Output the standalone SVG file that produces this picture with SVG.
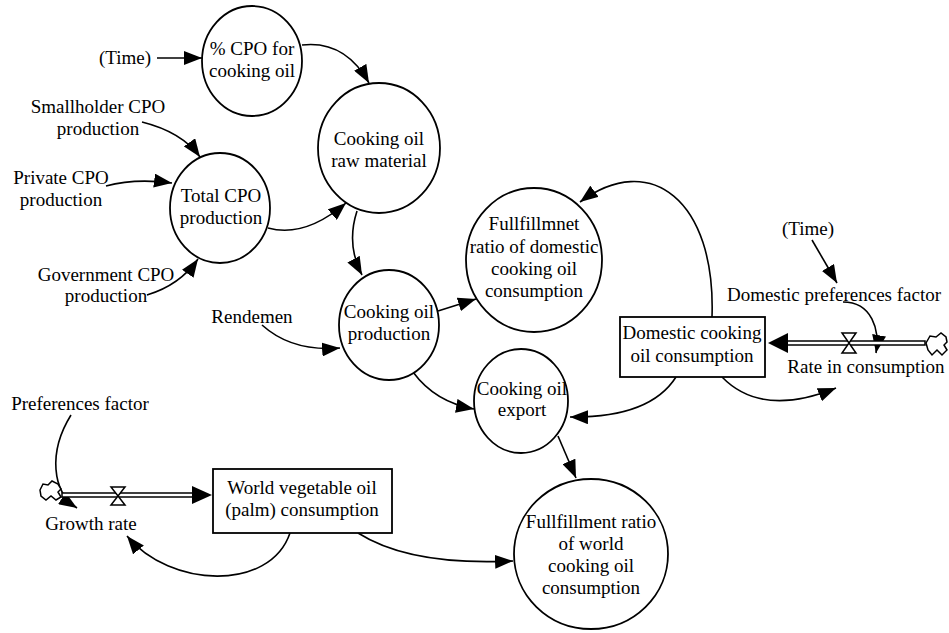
<svg xmlns="http://www.w3.org/2000/svg" width="949" height="633" viewBox="0 0 949 633" font-family="'Liberation Serif', 'Times New Roman', Tinos, 'DejaVu Serif', serif">
<defs>
<marker id="ah" viewBox="0 0 18 14" refX="18" refY="7" markerWidth="18" markerHeight="14" markerUnits="userSpaceOnUse" orient="auto">
<path d="M0,0 L18,7 L0,14 Z" fill="#000"/>
</marker>
</defs>
<style>
text{font-family:'Liberation Serif','Times New Roman',Tinos,'DejaVu Serif',serif;font-size:19px;fill:#000;text-anchor:middle}
.n{fill:#fff;stroke:#000;stroke-width:1.8}
.c{fill:none;stroke:#000;stroke-width:1.6;marker-end:url(#ah)}
.pipe{fill:#fff;stroke:#000;stroke-width:1.5}
.valve{fill:#fff;stroke:#000;stroke-width:1.5}
.cloud{fill:#fff;stroke:#000;stroke-width:1.5}
.head{fill:#000}
</style>
<rect width="949" height="633" fill="#fff"/>

<g id="connectors">
<path class="c" d="M157,58 L202,58"/>
<path class="c" d="M302,45 Q345,40 369,83"/>
<path class="c" d="M142,122 Q182,132 200,157"/>
<path class="c" d="M106,186 Q135,178 172,183"/>
<path class="c" d="M147,295 Q180,285 198,259"/>
<path class="c" d="M268,228 Q305,238 346,203"/>
<path class="c" d="M357,211 Q346,245 362,275"/>
<path class="c" d="M262,325 Q292,352 340,348"/>
<path class="c" d="M438,311 L476,299"/>
<path class="c" d="M413,372 Q435,402 474,409"/>
<path class="c" d="M676,377 Q650,418 570,417"/>
<path class="c" d="M712,317 C716,200 650,150 580,202"/>
<path class="c" d="M722,377 Q762,418 836,388"/>
<path class="c" d="M558,436 L576,478"/>
<path class="c" d="M358,533 Q410,566 513,561"/>
<path class="c" d="M290,533 C270,592 170,588 127,536"/>
<path class="c" d="M71,415 C48,452 52,492 77,508"/>
<path class="c" d="M812,240 L837,283"/>
<path class="c" d="M843,302 C872,302 880,330 876,353"/>
</g>

<g id="flow-growth">
<rect class="pipe" x="62" y="493" width="131" height="4"/>
<path class="head" d="M192,486 L212,495 L192,504 Z"/>
<path class="valve" d="M111,487 L125,487 L111,505 L125,505 Z"/>
<path class="cloud" d="M40,490 L43,484 L48,485 L52,481 L58,484 L61,489 L58,492 L61,497 L56,500 L51,496 L46,500 L41,496 Z"/>
<text x="91" y="530">Growth rate</text>
</g>

<g id="flow-rate">
<rect class="pipe" x="787" y="341" width="138" height="4"/>
<path class="head" d="M788,333 L768,343 L788,353 Z"/>
<path class="valve" d="M842,333 L856,333 L842,353 L856,353 Z"/>
<path class="cloud" d="M926,343 L930,336 L936,337 L941,333 L946,337 L947,342 L944,345 L947,350 L942,355 L937,350 L932,355 L928,350 Z"/>
<text x="866" y="373">Rate in consumption</text>
</g>

<g id="time1"><text x="125" y="64">(Time)</text></g>
<g id="time2"><text x="808" y="235">(Time)</text></g>
<g id="smallholder"><text x="98" y="113">Smallholder CPO</text><text x="98" y="135">production</text></g>
<g id="private"><text x="61" y="184">Private CPO</text><text x="61" y="206">production</text></g>
<g id="government"><text x="106" y="281">Government CPO</text><text x="106" y="302">production</text></g>
<g id="rendemen"><text x="252" y="323">Rendemen</text></g>
<g id="preferences"><text x="80" y="410">Preferences factor</text></g>
<g id="dom-pref"><text x="834" y="301">Domestic preferences factor</text></g>

<g id="cpo-cooking">
<ellipse class="n" cx="252" cy="61" rx="50" ry="55"/>
<text x="252" y="55">% CPO for</text><text x="252" y="77">cooking oil</text>
</g>
<g id="raw-material">
<ellipse class="n" cx="379" cy="148" rx="61" ry="65"/>
<text x="379" y="145">Cooking oil</text><text x="379" y="167">raw material</text>
</g>
<g id="total-cpo">
<ellipse class="n" cx="220" cy="208" rx="50" ry="55"/>
<text x="221" y="202">Total CPO</text><text x="221" y="224">production</text>
</g>
<g id="cooking-production">
<ellipse class="n" cx="389" cy="325" rx="50" ry="55"/>
<text x="389" y="318">Cooking oil</text><text x="389" y="340">production</text>
</g>
<g id="fulfil-domestic">
<ellipse class="n" cx="534" cy="260" rx="68" ry="72"/>
<text x="534" y="230">Fullfillmnet</text><text x="534" y="253">ratio of domestic</text><text x="534" y="275">cooking oil</text><text x="534" y="297">consumption</text>
</g>
<g id="export">
<ellipse class="n" cx="521" cy="401" rx="47" ry="52"/>
<text x="522" y="395">Cooking oil</text><text x="522" y="416">export</text>
</g>
<g id="fulfil-world">
<ellipse class="n" cx="591" cy="554" rx="77" ry="75"/>
<text x="591" y="528">Fullfillment ratio</text><text x="591" y="550">of world</text><text x="591" y="572">cooking oil</text><text x="591" y="594">consumption</text>
</g>
<g id="domestic-consumption">
<rect class="n" x="620" y="317" width="145" height="60"/>
<text x="692" y="339">Domestic cooking</text><text x="692" y="362">oil consumption</text>
</g>
<g id="world-consumption">
<rect class="n" x="213" y="469" width="179" height="64"/>
<text x="302" y="494">World vegetable oil</text><text x="302" y="516">(palm) consumption</text>
</g>
</svg>
